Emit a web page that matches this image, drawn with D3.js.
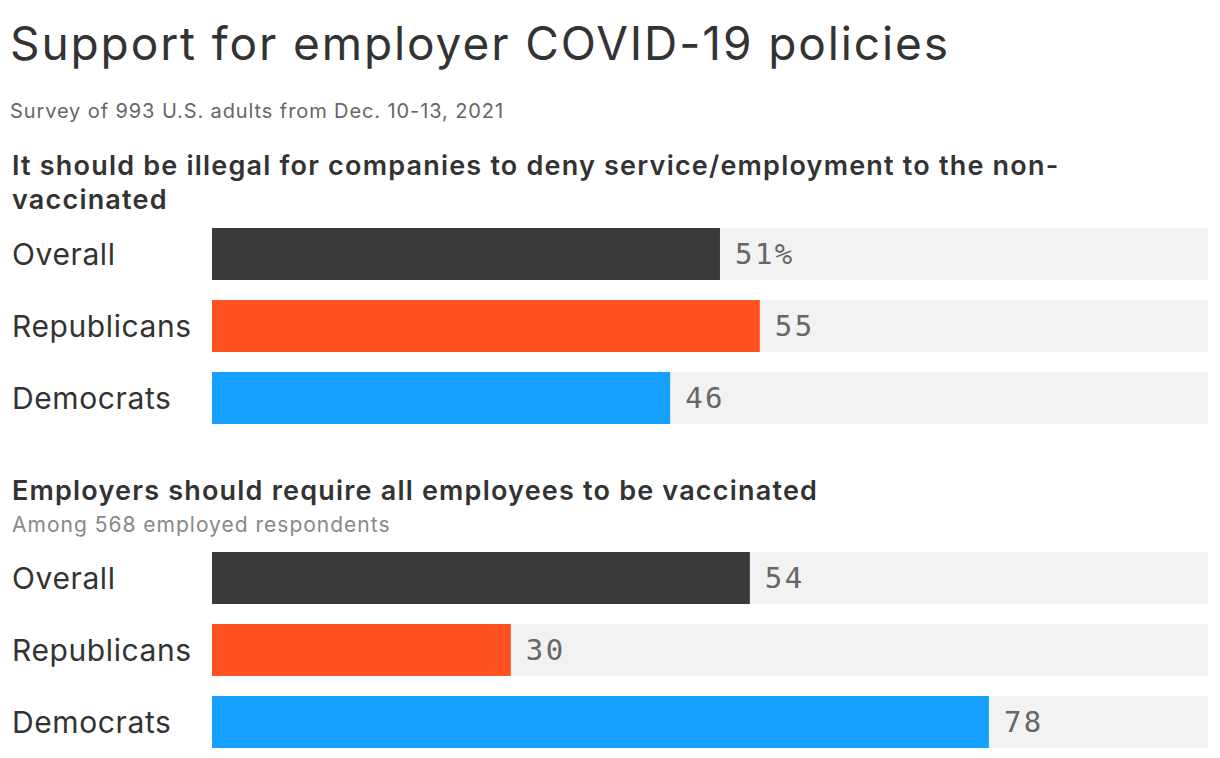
<!DOCTYPE html>
<html>
<head>
<meta charset="utf-8">
<script src="https://cdn.jsdelivr.net/npm/d3@7"></script>
<style>
  body { margin: 0; background: #fff; }
  svg { display: block; font-family: Inter, "Noto Sans", sans-serif; }
</style>
</head>
<body>
<svg></svg>
<script>
const svgWidth = 1220;
const svgHeight = 758;
const svg = d3.select("svg").attr("width", svgWidth).attr("height", svgHeight);

// data
const groups = ["Overall", "Republicans", "Democrats"];
const illegalDeny = [51, 55, 46];
const requireVax = [54, 30, 78];
const colors = ["#3a3a3a", "#ff5220", "#16a0ff"];

const x = d3.scaleLinear().domain([0, 100]).range([212, 1208]);

svg.append("text")
    .attr("x", 10).attr("y", 60)
    .attr("fill", "#333")
    .style("font-size", "46px")
    .style("letter-spacing", "1.9px")
    .text("Support for employer COVID-19 policies");

svg.append("text")
    .attr("x", 10).attr("y", 118)
    .attr("fill", "#666")
    .style("font-size", "20px")
    .style("letter-spacing", "0.9px")
    .text("Survey of 993 U.S. adults from Dec. 10-13, 2021");

const panels = [
    {title: ["It should be illegal for companies to deny service/employment to the non-", "vaccinated"],
     titleY: 175, note: null, values: illegalDeny, top: 228, pct: true},
    {title: ["Employers should require all employees to be vaccinated"],
     titleY: 500, note: "Among 568 employed respondents", values: requireVax, top: 552, pct: false}
];

panels.forEach((p) => {
    const g = svg.append("g");

    g.append("text")
        .attr("x", 12).attr("y", p.titleY)
        .attr("fill", "#333")
        .style("font-size", "27px")
        .style("font-weight", 600)
        .style("letter-spacing", "1.2px")
        .selectAll("tspan")
        .data(p.title)
        .join("tspan")
        .attr("x", 12)
        .attr("dy", (d, i) => i ? 34 : 0)
        .text((d) => d);

    if (p.note) {
        g.append("text")
            .attr("x", 12).attr("y", p.titleY + 32)
            .attr("fill", "#888")
            .style("font-size", "21px")
            .style("letter-spacing", "1px")
            .text(p.note);
    }

    const y = d3.scaleBand()
        .domain(groups)
        .range([p.top, p.top + 3 * 72 - 20])
        .paddingInner(20 / 72)
        .paddingOuter(0);

    const rows = g.selectAll("g.row")
        .data(groups.map((name, i) => ({name, value: p.values[i], color: colors[i], i})))
        .join("g")
        .attr("class", "row");

    rows.append("rect")
        .attr("x", x(0))
        .attr("y", (d) => y(d.name))
        .attr("width", x(100) - x(0))
        .attr("height", y.bandwidth())
        .attr("fill", "#f2f2f2");

    rows.append("rect")
        .attr("x", x(0))
        .attr("y", (d) => y(d.name))
        .attr("width", (d) => x(d.value) - x(0))
        .attr("height", y.bandwidth())
        .attr("fill", (d) => d.color);

    rows.append("text")
        .attr("x", 12)
        .attr("y", (d) => y(d.name) + y.bandwidth() / 2)
        .attr("dy", "0.35em")
        .attr("fill", "#333")
        .style("font-size", "30px")
        .style("letter-spacing", "0.6px")
        .text((d) => d.name);

    rows.append("text")
        .attr("x", (d) => x(d.value) + 15)
        .attr("y", (d) => y(d.name) + y.bandwidth() / 2)
        .attr("dy", "0.36em")
        .attr("fill", "#666")
        .style("font-family", "'DejaVu Sans Mono', monospace")
        .style("font-size", "29px")
        .style("letter-spacing", "2.5px")
        .text((d) => d.value + (p.pct && d.i === 0 ? "%" : ""));
});
</script>
</body>
</html>
